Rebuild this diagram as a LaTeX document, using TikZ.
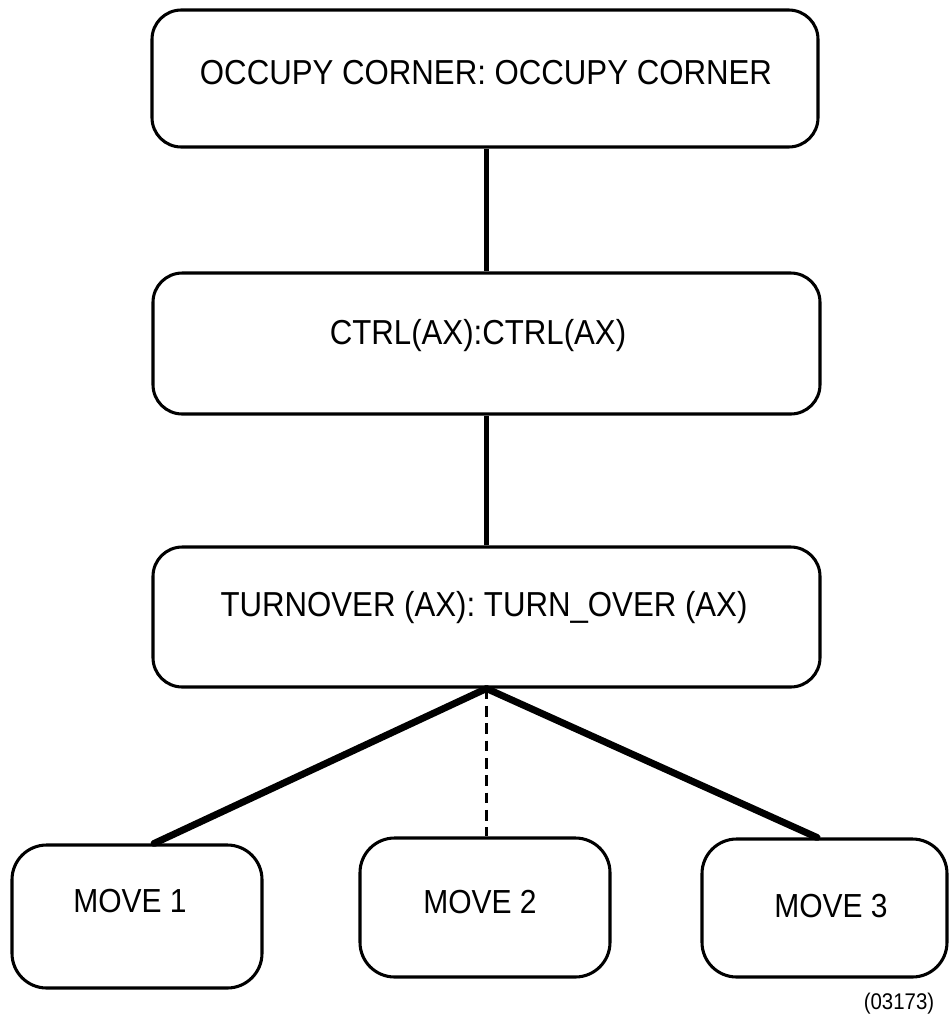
\documentclass[tikz,border=0pt]{standalone}
\usepackage{fontspec}
\setmainfont{Liberation Sans}[FakeStretch=0.9]
\begin{document}
\begin{tikzpicture}[x=0.75pt,y=-0.75pt,
  box/.style={draw=black,line width=2.3pt,rounded corners=22pt,inner sep=0pt},
  movebox/.style={draw=black,line width=2.3pt,rounded corners=26pt,inner sep=0pt},
  boxtext/.style={anchor=base,inner sep=0pt,font=\fontsize{26pt}{30pt}\selectfont},
  movetext/.style={anchor=base,inner sep=0pt,font=\fontsize{25pt}{29pt}\selectfont},
  link/.style={draw=black,line width=4pt},
  branch/.style={draw=black,line width=5.2pt},
  optbranch/.style={draw=black,line width=1.7pt,dash pattern=on 8pt off 5pt}]
\useasboundingbox (0,0) rectangle (949,1015);

% boxes of the hierarchy
\node[box,minimum width=499.5pt,minimum height=102.75pt] (top) at (485,78.5) {};
\node[box,minimum width=500.25pt,minimum height=105.75pt] (ctrl) at (486.5,343.5) {};
\node[box,minimum width=500.25pt,minimum height=105pt] (turn) at (486.5,617) {};
\node[movebox,minimum width=187.5pt,minimum height=107.25pt] (m1) at (137,916.5) {};
\node[movebox,minimum width=187.5pt,minimum height=104.25pt] (m2) at (485,907.5) {};
\node[movebox,minimum width=183.75pt,minimum height=103.5pt] (m3) at (824.5,908) {};

% labels
\node[boxtext] (toptext) at (486,84) {OCCUPY CORNER: OCCUPY CORNER};
\node[boxtext] (ctrltext) at (478,344) {CTRL(AX):CTRL(AX)};
\node[boxtext] (turntext) at (484,616) {TURNOVER (AX): TURN\_OVER (AX)};
\node[movetext] (m1text) at (130,912) {MOVE 1};
\node[movetext] (m2text) at (480,913) {MOVE 2};
\node[movetext] (m3text) at (831,917) {MOVE 3};
\node[anchor=base,inner sep=0pt,font=\fontsize{17pt}{20pt}\selectfont] (figno) at (899,1009) {(03173)};

% connectors
\draw[link] (top.south -| ctrl.north) -- (ctrl.north);
\draw[link] (ctrl.south) -- (turn.north);
\draw[branch,line cap=round] (turn.south) -- ([xshift=12.75pt]m1.north);
\draw[branch,line cap=round] (turn.south) -- ([xshift=-5.6pt]m3.north);
\draw[optbranch] (turn.south) -- (turn.south |- m2.north);
\end{tikzpicture}
\end{document}
